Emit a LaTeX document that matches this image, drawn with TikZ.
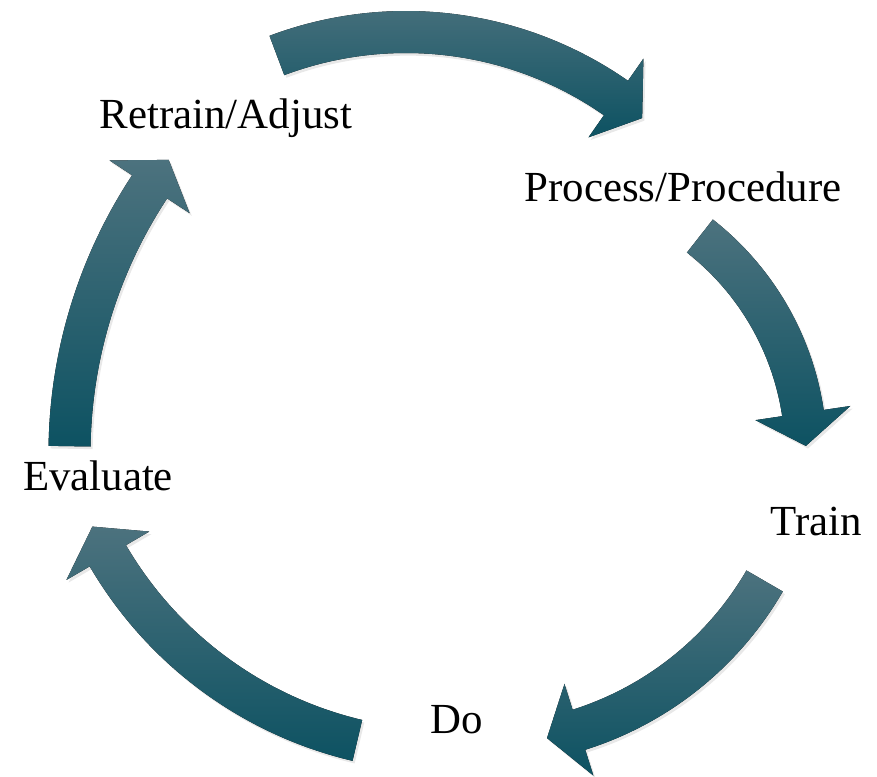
\documentclass[tikz,border=0pt]{standalone}
\usepackage{fontspec}
\setmainfont{Liberation Serif}
\usepackage{tikz}
\usetikzlibrary{shadows}

\definecolor{cyclelight}{RGB}{76,114,126}
\definecolor{cyclemid}{RGB}{22,92,108}
\definecolor{cycledark}{RGB}{13,82,98}

% curved block arrow: #1,#2 centre of its arc, #3 radius, #4 tail angle, #5 end of shaft
\newcommand{\cyclearrow}[5]{%
  \begin{scope}[shift={(#1,#2)}]
    \pgfmathsetmacro{\arrOut}{#3+21}
    \pgfmathsetmacro{\arrIn}{#3-21}
    \pgfmathsetmacro{\headOut}{#3+48}
    \pgfmathsetmacro{\headIn}{#3-48}
    \pgfmathsetmacro{\arrTip}{#5-1891/#3}
    \fill[cyclearrow] (#4:\arrOut) arc[start angle=#4, end angle=#5, radius=\arrOut]
      -- (#5:\headOut) -- (\arrTip:#3) -- (#5:\headIn)
      -- (#5:\arrIn) arc[start angle=#5, end angle=#4, radius=\arrIn] -- cycle;
  \end{scope}}

\begin{document}
\begin{tikzpicture}[
    x=0.02cm, y=0.02cm,
    label/.style={font=\fontsize{24.4}{29}\selectfont, inner sep=0pt},
    cyclearrow/.style={top color=cyclelight, middle color=cyclemid, bottom color=cycledark,
        drop shadow={opacity=0.18, shadow xshift=1.2pt, shadow yshift=-1.5pt}}
]
\useasboundingbox (0,0) rectangle (877,777);

% Arrows of the cycle
\cyclearrow{406}{378}{367}{110.6}{55.1}
\cyclearrow{529}{323}{277}{51.9}{8.5}
\cyclearrow{480}{361}{329}{-30.1}{-72.5}
\cyclearrow{448}{420}{394}{256.7}{210.3}
\cyclearrow{554.5}{323.2}{485}{179.1}{146.6}

% Labels
\node [label] (retrain) at (226,659) {Retrain/Adjust};
\node [label] (process) at (683,590) {Process/Procedure};
\node [label] (train) at (816,255) {Train};
\node [label] (do) at (457,57) {Do};
\node [label] (evaluate) at (98,301) {Evaluate};

\end{tikzpicture}
\end{document}
